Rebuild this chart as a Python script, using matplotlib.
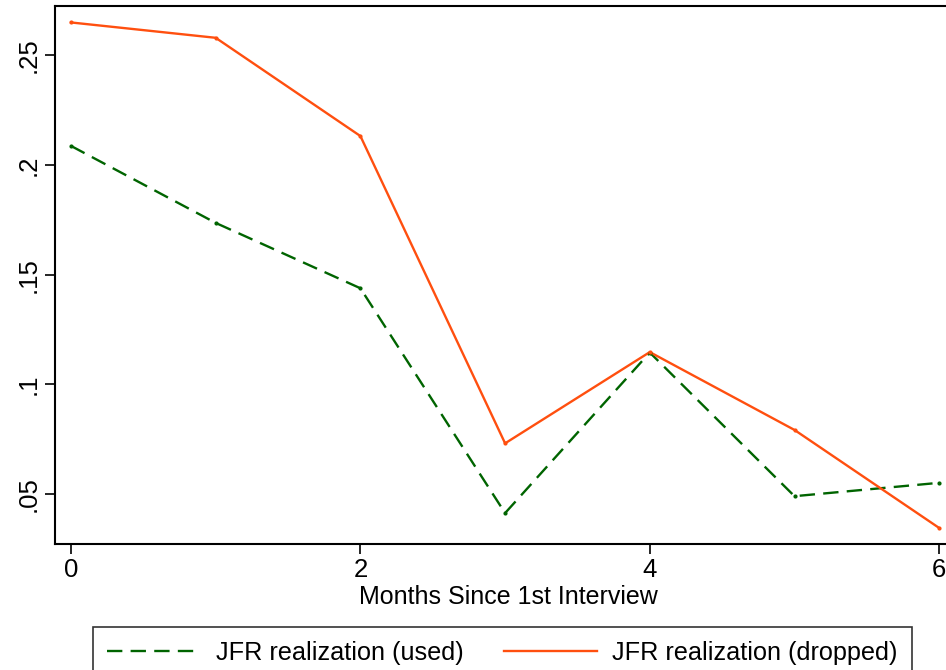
import matplotlib
matplotlib.use("Agg")
import matplotlib.pyplot as plt

plt.rcParams['font.family'] = ['Liberation Sans', 'DejaVu Sans']

months = [0, 1, 2, 3, 4, 5, 6]
jfr_used = [0.2087, 0.1736, 0.1438, 0.0413, 0.1145, 0.0490, 0.0551]
jfr_dropped = [0.2650, 0.2580, 0.2132, 0.0731, 0.1147, 0.0792, 0.0345]

xticks = [0, 2, 4, 6]
yticks = [0.05, 0.10, 0.15, 0.20, 0.25]
ytick_labels = ['.05', '.1', '.15', '.2', '.25']

W, H = 946, 670
fig = plt.figure(figsize=(W / 100, H / 100), dpi=100)
# plot region runs off the right edge of the canvas
ax = fig.add_axes([55 / W, (H - 544) / H, (962 - 55) / W, (544 - 6) / H])

green = '#006400'
orange = '#ff4f0f'

ax.plot(months, jfr_used, color=green, lw=1.7, dashes=(6.5, 3.5),
        label='JFR realization (used)')
ax.plot(months, jfr_dropped, color=orange, lw=1.7,
        label='JFR realization (dropped)')
# tiny point markers at each month
ax.plot(months, jfr_used, ls='none', marker='o', markersize=2, color=green)
ax.plot(months, jfr_dropped, ls='none', marker='o', markersize=2, color=orange)

ax.set_xlim((55 - 71) / 144.7, (962 - 71) / 144.7)
ax.set_ylim(0.0272, 0.2725)

ax.set_xticks(xticks)
ax.set_xticklabels([str(t) for t in xticks])
ax.set_yticks(yticks)
ax.set_yticklabels(ytick_labels, rotation=90, va='center')
ax.tick_params(labelsize=18.5, length=7, width=1.2, direction='out', pad=3)

for side in ['left', 'bottom', 'top', 'right']:
    ax.spines[side].set_linewidth(1.5)

ax.set_xlabel('Months Since 1st Interview', fontsize=18, labelpad=2)

leg = fig.legend(loc='upper left', bbox_to_anchor=(93 / W, (H - 627) / H),
                 ncol=2, fontsize=18.2, frameon=True, fancybox=False,
                 edgecolor='black', handlelength=3.7, handletextpad=0.6,
                 columnspacing=1.6, borderpad=0.55, borderaxespad=0)
leg.get_frame().set_linewidth(1.2)

fig.savefig('out.png', dpi=100)
